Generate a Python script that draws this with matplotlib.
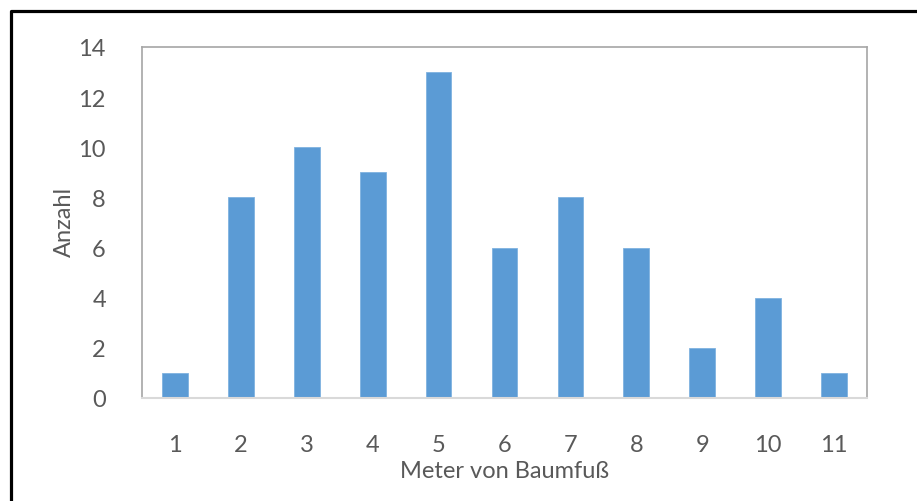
import matplotlib.pyplot as plt
from matplotlib.lines import Line2D

# Daten
meter = ['1', '2', '3', '4', '5', '6', '7', '8', '9', '10', '11']
anzahl = [1, 8, 10, 9, 13, 6, 8, 6, 2, 4, 1]
y_ticks = [0, 2, 4, 6, 8, 10, 12, 14]

plt.rcParams['font.family'] = ['Lato', 'DejaVu Sans']
text_col = '#595959'

fig = plt.figure(figsize=(9.17, 5.02), dpi=100)
ax = fig.add_axes([142 / 917, 1 - 399 / 502, 725 / 917, 351 / 502])

x = range(len(meter))
ax.bar(x, anzahl, width=0.39, color='#5B9BD5', edgecolor='#7fb2e0', linewidth=0.6, zorder=2)

ax.set_xlim(-0.5, len(meter) - 0.5)
ax.set_ylim(0, 14)
ax.set_xticks(list(x))
ax.set_xticklabels(meter)
ax.set_yticks(y_ticks)

for side in ['left', 'top', 'right']:
    ax.spines[side].set_color('#a6a6a6')
    ax.spines[side].set_linewidth(1.2)
ax.spines['bottom'].set_color('#d9d9d9')
ax.spines['bottom'].set_linewidth(1.5)

ax.tick_params(axis='x', length=0, pad=26, labelsize=17, labelcolor=text_col)
ax.tick_params(axis='y', length=0, pad=26, labelsize=17, labelcolor=text_col)

fig.text(504 / 917, 1 - 472 / 502, 'Meter von Baumfuß', ha='center', va='center',
         fontsize=17, color=text_col)
fig.text(64 / 917, 1 - 222 / 502, 'Anzahl', ha='center', va='center', rotation=90,
         fontsize=17, color=text_col)

# schwarzer Rahmen oben und links
fig.add_artist(Line2D([10.5 / 917, 10.5 / 917, 1.0], [0.0, 1 - 11.5 / 502, 1 - 11.5 / 502],
                      color='black', linewidth=2.3, transform=fig.transFigure))

fig.savefig('out.png', dpi=100)
